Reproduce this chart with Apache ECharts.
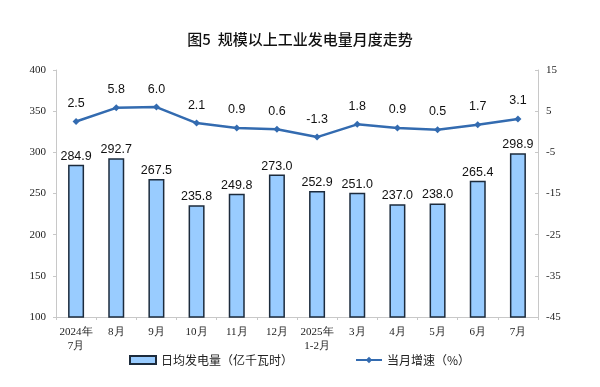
<!DOCTYPE html>
<html><head><meta charset="utf-8">
<script src="https://cdn.jsdelivr.net/npm/echarts@6/dist/echarts.min.js"></script>
<style>html,body{margin:0;padding:0;background:#fff}#c{width:600px;height:387px}</style>
</head><body><div id="c"></div>
<script>
const categories = ['2024年\n7月','8月','9月','10月','11月','12月','2025年\n1-2月','3月','4月','5月','6月','7月'];
const dailyOutput = [284.9, 292.7, 267.5, 235.8, 249.8, 273.0, 252.9, 251.0, 237.0, 238.0, 265.4, 298.9];
const growthRate = [2.5, 5.8, 6.0, 2.1, 0.9, 0.6, -1.3, 1.8, 0.9, 0.5, 1.7, 3.1];
const leftTicks = [100, 400, 50];
const rightTicks = [-45, 15, 10];

const chart = echarts.init(document.getElementById('c'));
const serif = 'Liberation Serif, serif';
chart.setOption({
  animation:false,
  title:{text:'图5  规模以上工业发电量月度走势', left:'center', top:27,
    textStyle:{fontFamily:'Noto Sans CJK SC', fontSize:15, fontWeight:500, color:'#111'}},
  legend:{bottom:16, left:124, itemGap:62, itemWidth:26, itemHeight:8,
    textStyle:{fontFamily:'Noto Sans CJK SC', fontSize:12, color:'#222'},
    data:[{name:'日均发电量（亿千瓦时）', icon:'rect'},{name:'当月增速（%）'}]},
  grid:{left:56, right:62, top:70, bottom:70},
  xAxis:{type:'category', data:categories,
    axisLine:{onZero:false, lineStyle:{color:'#c8c8c8', width:1}},
    axisTick:{show:true, length:3, lineStyle:{color:'#c8c8c8'}},
    axisLabel:{interval:0, fontFamily:serif, fontSize:11, color:'#222', margin:8, lineHeight:14}},
  yAxis:[
    {type:'value', min:leftTicks[0], max:leftTicks[1], interval:leftTicks[2],
     axisLine:{show:true, lineStyle:{color:'#c8c8c8'}}, axisTick:{show:true, length:3, lineStyle:{color:'#c8c8c8'}},
     splitLine:{show:false}, axisLabel:{fontFamily:serif, fontSize:11, color:'#222', margin:10}},
    {type:'value', min:rightTicks[0], max:rightTicks[1], interval:rightTicks[2],
     axisLine:{show:true, lineStyle:{color:'#c8c8c8'}}, axisTick:{show:true, inside:true, length:3, lineStyle:{color:'#c8c8c8'}},
     splitLine:{show:false}, axisLabel:{fontFamily:serif, fontSize:11, color:'#222', margin:8}}
  ],
  series:[
    {name:'日均发电量（亿千瓦时）', type:'bar', data:dailyOutput, barWidth:16, yAxisIndex:0,
     itemStyle:{color:'#99ccff', borderColor:'#1c2b3c', borderWidth:1.5},
     label:{show:true, position:'top', distance:2, fontFamily:'Liberation Sans, Arial', fontSize:12.5, color:'#111',
       formatter:p=>p.value.toFixed(1)}},
    {name:'当月增速（%）', type:'line', data:growthRate, yAxisIndex:1,
     symbol:'diamond', symbolSize:7, lineStyle:{color:'#336bb0', width:2.5},
     itemStyle:{color:'#336bb0'},
     label:{show:true, position:'top', distance:8, fontFamily:'Liberation Sans, Arial', fontSize:12.5, color:'#111',
       formatter:p=>p.value.toFixed(1)}}
  ]
});
</script></body></html>
